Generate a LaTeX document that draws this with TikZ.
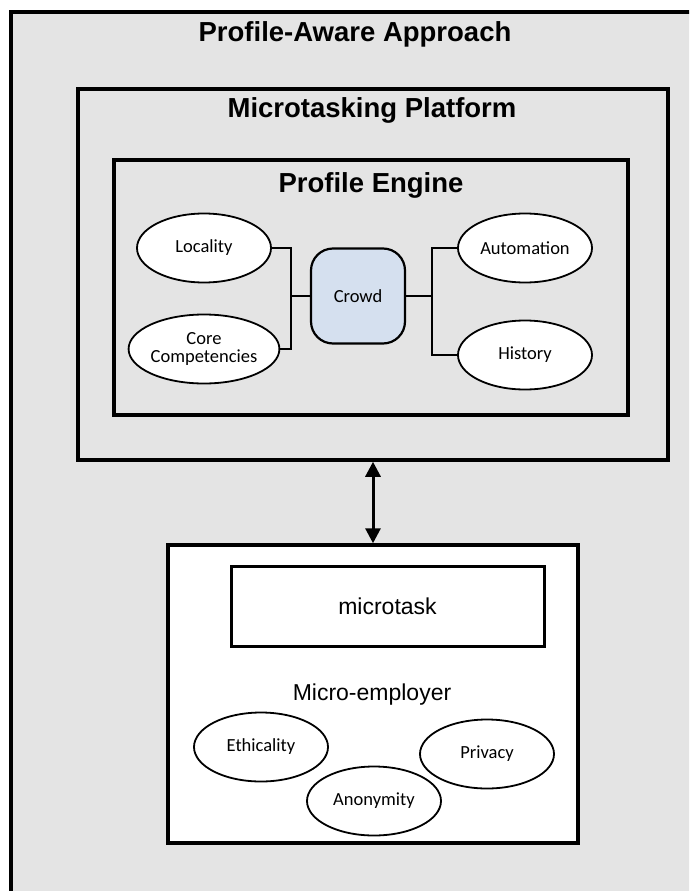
\documentclass[tikz,border=0pt]{standalone}
\usepackage{fontspec}
\setmainfont{Liberation Sans}
\newfontfamily\calfont{Carlito}
\usepackage{tikz}
\usetikzlibrary{shapes.geometric,arrows.meta}

\definecolor{panelgray}{HTML}{E4E4E4}
\definecolor{crowdblue}{HTML}{D5E0EF}

\begin{document}
\begin{tikzpicture}[x=1pt, y=-1pt,
  heading/.style={font=\bfseries\fontsize{27.5}{30}\selectfont, anchor=base},
  plain/.style={font=\fontsize{23}{26}\selectfont, anchor=base},
  box/.style={draw, line width=3.5pt, rectangle, inner sep=0pt},
  trait/.style={draw, line width=1.8pt, ellipse, fill=white, inner sep=0pt,
    minimum width=134pt, minimum height=69pt, align=center,
    font=\calfont\fontsize{18.5}{20}\selectfont},
  link/.style={line width=2.5pt}]
\useasboundingbox (0,0) rectangle (689,891);
\clip (0,0) rectangle (689,891);
\fill[white] (0,0) rectangle (689,891);
\draw[line width=4pt, fill=panelgray] (11,12) rectangle (720,920);
\node[heading] (approach) at (355,42) {Profile-Aware Approach};

\node[box, minimum width=590pt, minimum height=371pt] (plat) at (373,274.5) {};
\node[heading] (platlabel) at (372,117) {Microtasking Platform};

\node[box, minimum width=514pt, minimum height=255pt] (engine) at (371,287.5) {};
\node[heading] (enginelabel) at (371,192) {Profile Engine};

\node[trait] (loc) at (204,248) {Locality};
\node[trait] (core) at (204,349) {Core\\[-2pt]Competencies};
\node[draw, line width=2.2pt, rounded corners=22pt, fill=crowdblue, minimum width=94pt,
  minimum height=95pt, font=\calfont\fontsize{18.5}{20}\selectfont] (crowd) at (358,296) {Crowd};
\node[trait] (auto) at (525,248) {Automation};
\node[trait] (hist) at (525,355) {History};

\coordinate (lj) at (291,296);
\coordinate (rj) at (432,296);
\draw[link] (loc.east) -| (lj) |- (core.east);
\draw[link] (lj) -- (crowd.west);
\draw[link] (auto.west) -| (rj) |- (hist.west);
\draw[link] (crowd.east) -- (rj);

\node[box, fill=white, minimum width=410pt, minimum height=298pt] (emp) at (373,694) {};
\draw[line width=3pt, {Triangle[length=15pt,width=15pt]}-{Triangle[length=15pt,width=15pt]}]
  (plat.south) -- (emp.north);
\node[box, line width=3pt, minimum width=313pt, minimum height=80pt] (task) at (387.5,606) {};
\node[plain] (tasklabel) at (387.5,614) {microtask};
\node[plain] (emplabel) at (372,700) {Micro-employer};

\node[trait] (eth) at (261,747) {Ethicality};
\node[trait] (priv) at (487,754) {Privacy};
\node[trait] (anon) at (374,801) {Anonymity};
\end{tikzpicture}
\end{document}
